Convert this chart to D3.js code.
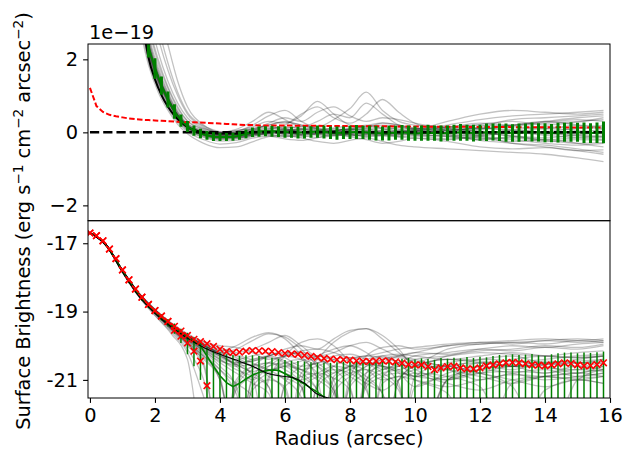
<!DOCTYPE html>
<html>
<head>
<meta charset="utf-8">
<script src="https://cdn.jsdelivr.net/npm/d3@7"></script>
<style>
  html, body { margin: 0; padding: 0; background: #fff; }
  svg text { font-family: "DejaVu Sans", sans-serif; }
</style>
</head>
<body>
<svg id="chart" width="623" height="450"></svg>
<script>
// ---------- radial grid (arcsec) ----------
const radius = [
  0.0,0.2,0.4,0.6,0.8,1.0,1.2,1.4,1.6,1.8,
  2.0,2.2,2.4,2.6,2.8,3.0,3.2,3.4,3.6,3.8,
  4.0,4.2,4.4,4.6,4.8,5.0,5.2,5.4,5.6,5.8,
  6.0,6.2,6.4,6.6,6.8,7.0,7.2,7.4,7.6,7.8,
  8.0,8.2,8.4,8.6,8.8,9.0,9.2,9.4,9.6,9.8,
  10.0,10.2,10.4,10.6,10.8,11.0,11.2,11.4,11.6,11.8,
  12.0,12.2,12.4,12.6,12.8,13.0,13.2,13.4,13.6,13.8,
  14.0,14.2,14.4,14.6,14.8,15.0,15.2,15.4,15.6,15.8
];

// ---------- upper panel (linear, units of 1e-19) ----------
const topMedian = [
  75,60,45,32,22,15,9.5,6.0,3.7,2.35,
  1.75,1.28,0.9,0.57,0.32,0.16,0.05,-0.03,-0.08,-0.12,
  -0.13,-0.13,-0.12,-0.09,-0.04,0.0,0.02,0.03,0.03,0.02,
  0.01,0.0,-0.01,0.0,0.01,0.02,0.01,-0.01,-0.02,-0.01,
  0.0,0.01,0.0,-0.01,-0.02,-0.03,-0.02,-0.01,0.0,-0.02,
  -0.03,-0.02,-0.01,-0.02,-0.03,-0.02,-0.01,0.0,-0.01,-0.02,
  -0.01,0.0,0.01,0.0,-0.01,-0.02,-0.01,0.0,0.01,0.0,
  -0.01,-0.02,-0.01,0.0,0.01,0.0,-0.01,-0.02,-0.01,0.0
];
const topErr = [
  0.6,0.55,0.5,0.45,0.42,0.4,0.37,0.34,0.32,0.3,
  0.28,0.25,0.22,0.2,0.17,0.15,0.14,0.13,0.12,0.12,
  0.11,0.11,0.11,0.11,0.12,0.13,0.14,0.14,0.15,0.15,
  0.16,0.15,0.16,0.17,0.16,0.17,0.18,0.17,0.18,0.17,
  0.18,0.19,0.18,0.19,0.2,0.19,0.2,0.19,0.2,0.21,
  0.2,0.21,0.22,0.21,0.22,0.21,0.22,0.23,0.22,0.23,
  0.22,0.24,0.23,0.24,0.25,0.24,0.25,0.24,0.26,0.25,
  0.26,0.25,0.27,0.26,0.27,0.26,0.28,0.27,0.28,0.3
];
const topBackground = [
  1.22,0.72,0.56,0.48,0.44,0.41,0.38,0.36,0.345,0.335,
  0.325,0.315,0.305,0.295,0.285,0.28,0.275,0.27,0.26,0.25,
  0.24,0.23,0.22,0.21,0.2,0.2,0.19,0.19,0.19,0.19,
  0.185,0.185,0.18,0.18,0.18,0.178,0.176,0.175,0.174,0.172,
  0.17,0.17,0.168,0.167,0.166,0.165,0.164,0.163,0.162,0.16,
  0.158,0.157,0.156,0.155,0.154,0.153,0.152,0.151,0.15,0.149,
  0.148,0.147,0.146,0.145,0.144,0.143,0.142,0.141,0.14,0.14,
  0.139,0.138,0.137,0.136,0.135,0.134,0.133,0.132,0.131,0.13
];
const modelTopR = [1.6,1.8,2.0,2.2,2.4,2.6,2.8,3.0,3.2,3.4,3.6,3.8,4.0,4.5,5.0];
const modelTopV = [3.1,2.05,1.45,1.02,0.7,0.46,0.28,0.15,0.07,0.02,-0.01,-0.03,-0.04,-0.04,-0.02];

// realisations, sampled at these radii
const realTopR = [1.5,1.8,2.1,2.4,2.7,3.0,3.5,4,4.5,5,5.5,6,6.5,7,7.5,8,8.5,9,9.5,10,11,12,13,14,15,15.8];
const realTop = [
  [3.6,2.2,1.4,0.82,0.4,0.12,-0.08,-0.16,-0.12,0.02,0.05,0.0,-0.05,-0.02,0.04,0.08,0.05,-0.02,-0.06,-0.04,0.02,0.1,0.05,-0.05,0.0,0.08],
  [3.9,2.4,1.55,0.95,0.48,0.18,-0.02,-0.1,-0.08,-0.02,0.0,0.04,0.1,0.06,-0.02,-0.08,-0.05,0.02,0.06,0.1,0.12,0.0,-0.1,-0.15,-0.08,-0.12],
  [3.4,2.1,1.3,0.75,0.35,0.08,-0.12,-0.2,-0.18,-0.06,0.02,0.06,0.0,-0.08,-0.1,-0.02,0.06,0.1,0.04,-0.04,-0.1,-0.2,-0.12,-0.22,-0.3,-0.28],
  [4.1,2.55,1.65,1.0,0.52,0.2,0.02,-0.08,-0.1,0.04,0.12,0.08,0.02,0.05,0.1,0.04,-0.04,-0.1,-0.06,0.02,0.15,0.2,0.18,0.25,0.3,0.35],
  [3.7,2.3,1.45,0.88,0.44,0.14,-0.06,-0.14,-0.1,-0.04,-0.08,-0.12,-0.06,0.02,0.0,-0.06,-0.12,-0.08,0.0,0.05,-0.05,-0.15,-0.25,-0.2,-0.3,-0.4],
  [3.8,2.35,1.5,0.9,0.45,0.17,-0.04,-0.12,-0.14,-0.08,0.0,0.1,0.16,0.1,0.02,0.04,0.1,0.14,0.08,0.0,0.1,0.22,0.3,0.2,0.28,0.4],
  [3.5,2.15,1.35,0.8,0.38,0.1,-0.1,-0.18,-0.16,-0.1,-0.04,-0.02,-0.08,-0.14,-0.08,0.0,0.02,-0.04,-0.12,-0.16,-0.2,-0.12,-0.3,-0.35,-0.45,-0.55],
  [4.0,2.5,1.6,0.98,0.5,0.2,0.0,-0.06,-0.04,0.06,0.04,-0.04,-0.02,0.04,0.12,0.16,0.1,0.02,-0.02,0.04,0.0,0.08,0.15,0.1,0.2,0.15],
  [3.6,2.25,1.42,0.86,0.42,0.13,-0.07,-0.15,-0.13,-0.03,0.08,0.14,0.1,0.0,-0.06,-0.1,-0.04,0.06,0.12,0.08,-0.02,-0.08,0.0,0.1,0.05,-0.05],
  [3.9,2.45,1.58,0.94,0.47,0.16,-0.05,-0.11,-0.06,0.0,-0.05,-0.1,-0.12,-0.04,0.06,0.08,0.0,-0.08,-0.12,-0.1,-0.18,-0.1,0.0,-0.08,-0.15,-0.2],
  [3.3,2.05,1.25,0.7,0.32,0.06,-0.14,-0.24,-0.22,-0.12,-0.02,0.04,0.08,0.12,0.06,-0.04,-0.1,-0.06,0.02,0.08,0.14,0.25,0.2,0.3,0.4,0.45],
  [4.2,2.6,1.7,1.05,0.55,0.22,0.04,-0.04,-0.02,0.08,0.16,0.1,0.0,-0.06,-0.02,0.06,0.14,0.2,0.16,0.06,-0.06,-0.22,-0.3,-0.4,-0.5,-0.6],
  [4.5,2.9,1.9,1.2,0.65,0.3,0.08,-0.04,0.02,0.2,0.45,0.6,0.3,0.1,0.05,0.1,0.2,0.1,0.0,0.05,0.2,0.35,0.45,0.5,0.55,0.6],
  [5.0,3.3,2.2,1.4,0.8,0.4,0.12,-0.02,0.04,0.15,0.3,0.25,0.45,0.85,0.5,0.2,0.15,0.25,0.2,0.1,0.3,0.5,0.6,0.55,0.5,0.55],
  [5.5,3.8,2.6,1.7,1.0,0.5,0.15,0.0,0.05,0.1,0.2,0.3,0.2,0.15,0.35,0.65,1.1,0.6,0.3,0.2,0.15,0.1,0.2,0.3,0.2,0.1],
  [6.0,4.2,2.9,1.9,1.1,0.55,0.18,0.02,-0.05,0.05,0.25,0.4,0.3,0.55,0.7,0.45,0.3,0.4,0.35,0.25,0.1,0.0,-0.1,-0.2,-0.15,-0.1],
  [3.0,1.85,1.1,0.6,0.22,-0.04,-0.3,-0.42,-0.4,-0.26,-0.12,-0.08,-0.15,-0.25,-0.3,-0.22,-0.15,-0.25,-0.35,-0.4,-0.45,-0.5,-0.55,-0.6,-0.7,-0.8],
  [3.2,1.95,1.2,0.66,0.28,0.02,-0.2,-0.32,-0.28,-0.16,-0.1,-0.18,-0.22,-0.15,-0.05,-0.12,-0.2,-0.3,-0.25,-0.15,-0.25,-0.4,-0.45,-0.42,-0.5,-0.48],
  [4.6,3.0,2.0,1.25,0.7,0.32,0.1,0.0,0.08,0.3,0.55,0.35,0.15,0.3,0.5,0.4,0.8,0.5,0.2,0.1,0.05,0.15,0.35,0.4,0.45,0.5],
  [7.0,5.0,3.5,2.4,1.4,0.7,0.2,0.0,-0.02,0.05,0.1,0.2,0.5,0.7,0.4,0.25,0.5,0.9,0.55,0.25,0.05,-0.1,-0.2,-0.3,-0.35,-0.3],
  [3.75,2.3,1.48,0.89,0.45,0.15,-0.05,-0.13,-0.11,-0.02,0.03,-0.02,-0.06,0.0,0.05,0.02,-0.04,-0.06,0.0,0.06,0.08,0.04,-0.04,0.02,0.1,0.12],
  [3.85,2.38,1.52,0.92,0.46,0.16,-0.03,-0.1,-0.12,-0.06,-0.02,0.02,0.06,0.02,-0.04,-0.04,0.02,0.04,-0.02,-0.08,-0.1,-0.06,0.04,-0.02,-0.1,-0.15],
  [3.65,2.27,1.44,0.87,0.43,0.14,-0.06,-0.14,-0.12,-0.04,0.06,0.08,0.04,-0.04,-0.08,-0.04,0.02,0.0,-0.04,0.0,0.06,0.12,0.08,0.15,0.12,0.2],
  [3.95,2.42,1.56,0.95,0.48,0.17,-0.04,-0.09,-0.07,0.02,0.0,-0.06,-0.08,-0.02,0.04,0.1,0.06,-0.02,-0.08,-0.06,-0.12,-0.18,-0.15,-0.25,-0.2,-0.22],
  [3.55,2.2,1.38,0.83,0.41,0.12,-0.08,-0.17,-0.15,-0.07,0.01,0.05,0.08,0.06,0.0,-0.06,-0.08,-0.02,0.04,0.02,0.0,-0.04,0.06,0.0,-0.06,0.02],
  [4.3,2.7,1.78,1.1,0.58,0.24,0.05,-0.03,0.0,0.1,0.2,0.28,0.2,0.08,0.02,0.08,0.18,0.26,0.2,0.12,0.05,0.12,0.2,0.28,0.35,0.3]
];

// ---------- lower panel (log10 surface brightness) ----------
const profile = [
  -16.70,-16.78,-16.93,-17.17,-17.45,-17.78,-18.07,-18.34,-18.58,-18.79,
  -18.97,-19.13,-19.29,-19.43,-19.57,-19.70,-19.81,-19.88,-19.94,-20.02,
  -20.10,-20.17,-20.20,-20.19,-20.16,-20.14,-20.15,-20.16,-20.17,-20.20,
  -20.22,-20.24,-20.25,-20.28,-20.31,-20.34,-20.37,-20.39,-20.41,-20.41,
  -20.42,-20.44,-20.46,-20.46,-20.45,-20.44,-20.45,-20.47,-20.51,-20.55,
  -20.56,-20.56,-20.61,-20.70,-20.65,-20.61,-20.60,-20.65,-20.68,-20.68,
  -20.65,-20.59,-20.56,-20.53,-20.50,-20.49,-20.50,-20.53,-20.56,-20.57,
  -20.59,-20.56,-20.53,-20.50,-20.52,-20.56,-20.59,-20.58,-20.55,-20.50
];
// background-subtracted profile: positive only out to 3.6 arcsec
const profileSub = [
  -16.70,-16.78,-16.93,-17.17,-17.45,-17.78,-18.07,-18.34,-18.58,-18.79,
  -18.97,-19.13,-19.29,-19.55,-19.72,-19.92,-20.16,-20.45,-21.17
];
// median of realisations: positive only out to 7.4 arcsec
const logMedian = [
  -16.71,-16.80,-16.95,-17.20,-17.50,-17.82,-18.12,-18.38,-18.62,-18.83,
  -19.00,-19.16,-19.32,-19.47,-19.61,-19.75,-19.88,-20.00,-20.30,-20.60,
  -20.88,-21.08,-21.20,-21.10,-20.97,-20.86,-20.78,-20.74,-20.71,-20.72,
  -20.82,-20.92,-21.02,-21.12,-21.24,-21.36,-21.50,-21.70
];
const logErrHi = [
  -16.69,-16.78,-16.93,-17.17,-17.47,-17.78,-18.07,-18.32,-18.56,-18.76,
  -18.93,-19.08,-19.22,-19.35,-19.50,-19.62,-19.75,-19.88,-20.05,-20.15,
  -20.20,-20.25,-20.28,-20.30,-20.28,-20.28,-20.30,-20.32,-20.35,-20.38,
  -20.42,-20.44,-20.45,-20.46,-20.48,-20.50,-20.50,-20.50,-20.48,-20.47,
  -20.46,-20.47,-20.50,-20.48,-20.45,-20.44,-20.46,-20.43,-20.38,-20.36,
  -20.40,-20.37,-20.39,-20.41,-20.36,-20.38,-20.35,-20.37,-20.33,-20.36,
  -20.32,-20.34,-20.30,-20.27,-20.28,-20.25,-20.27,-20.26,-20.24,-20.28,
  -20.30,-20.25,-20.22,-20.20,-20.20,-20.22,-20.20,-20.21,-20.19,-20.17
];
// lower bound is non-positive (no log) beyond 3.4 arcsec
const logErrLo = [
  -16.73,-16.82,-16.97,-17.23,-17.53,-17.86,-18.17,-18.44,-18.68,-18.90,
  -19.07,-19.26,-19.44,-19.65,-19.92,-20.25,-20.60,-21.00
];
const modelR = [0,0.5,1,1.5,2,2.5,3,3.5,4,4.5,5,5.5,6,6.3,6.6,7,7.4,7.8];
const modelV = [-16.7,-17.08,-17.85,-18.55,-19.05,-19.45,-19.78,-20.05,-20.25,-20.42,-20.6,-20.82,-20.9,-20.95,-21.1,-21.42,-21.55,-21.7];

// realisations in log space; -23 marks a non-positive sample (falls off the axis)
const realBotR = [0,0.5,1,1.5,2,2.5,3,3.5,4,4.5,5,5.5,6,6.5,7,7.5,8,8.5,9,9.5,10,11,12,13,14,15,15.8];
const realBot = [
  [-16.7,-17.05,-17.8,-18.48,-18.98,-19.4,-19.75,-20.0,-20.25,-20.4,-20.3,-20.2,-20.35,-20.6,-20.5,-20.3,-20.25,-20.4,-20.7,-20.5,-20.3,-20.2,-20.1,-20.15,-20.05,-20.1,-20.0],
  [-16.7,-17.05,-17.82,-18.5,-19.02,-19.46,-19.85,-20.2,-20.6,-21.2,-23,-20.9,-20.5,-20.4,-20.6,-21.0,-23,-20.8,-20.4,-20.3,-20.4,-20.6,-20.4,-20.3,-20.5,-20.4,-20.3],
  [-16.7,-17.04,-17.78,-18.45,-18.94,-19.35,-19.68,-19.9,-20.05,-20.2,-20.1,-19.9,-19.7,-20.0,-20.3,-20.2,-20.0,-19.9,-20.1,-20.3,-20.2,-20.0,-19.95,-19.9,-19.95,-19.85,-19.9],
  [-16.7,-17.06,-17.84,-18.52,-19.05,-19.5,-19.95,-20.5,-23,-21.0,-20.6,-20.5,-20.7,-21.1,-23,-20.9,-20.6,-20.5,-20.6,-20.8,-21.2,-20.8,-20.6,-20.7,-20.5,-20.6,-20.5],
  [-16.7,-17.05,-17.8,-18.47,-18.97,-19.38,-19.72,-19.95,-20.15,-20.35,-20.6,-20.9,-21.3,-23,-21.1,-20.6,-20.4,-20.3,-20.35,-20.5,-20.7,-21.0,-20.7,-20.5,-20.4,-20.3,-20.25],
  [-16.7,-17.05,-17.81,-18.49,-19.0,-19.43,-19.8,-20.15,-20.5,-20.8,-21.1,-21.4,-23,-20.8,-20.5,-20.45,-20.6,-20.9,-21.4,-23,-20.9,-20.5,-20.4,-20.45,-20.6,-20.8,-20.6],
  [-16.7,-17.05,-17.79,-18.46,-18.95,-19.36,-19.7,-19.98,-20.25,-20.6,-21.0,-20.6,-20.3,-20.2,-20.35,-20.7,-21.2,-23,-20.9,-20.6,-20.4,-20.3,-20.2,-20.25,-20.3,-20.2,-20.15],
  [-16.7,-17.05,-17.8,-18.5,-19.05,-19.55,-20.1,-21.0,-23,-23,-20.9,-20.5,-20.3,-20.4,-20.8,-21.3,-23,-21.0,-20.7,-20.6,-20.55,-20.7,-21.0,-20.8,-20.7,-20.9,-20.8],
  [-16.7,-17.05,-17.8,-18.47,-18.97,-19.38,-19.72,-19.95,-20.2,-20.1,-19.85,-19.65,-19.75,-20.1,-20.6,-21.2,-23,-21.0,-20.5,-20.3,-20.2,-20.25,-20.1,-20.0,-20.05,-19.95,-19.9],
  [-16.7,-17.05,-17.81,-18.48,-18.99,-19.42,-19.78,-20.08,-20.35,-20.55,-20.8,-21.2,-23,-21.0,-20.4,-19.9,-19.6,-19.5,-19.7,-20.1,-20.6,-20.3,-20.15,-20.1,-20.0,-20.05,-19.95],
  [-16.7,-17.06,-17.84,-18.55,-19.1,-19.6,-20.2,-21.5,-23,-21.2,-20.7,-20.5,-20.6,-20.9,-21.3,-23,-21.2,-20.8,-20.6,-20.7,-21.0,-21.4,-23,-21.1,-20.9,-20.8,-20.9],
  [-16.7,-17.04,-17.78,-18.44,-18.93,-19.33,-19.65,-19.88,-20.0,-20.05,-20.2,-20.4,-20.3,-20.15,-20.1,-20.2,-20.35,-20.3,-20.2,-20.1,-20.05,-19.95,-19.9,-19.85,-19.8,-19.85,-19.8],
  [-16.7,-17.05,-17.8,-18.48,-18.98,-19.4,-19.76,-20.05,-20.3,-20.5,-20.45,-20.35,-20.5,-20.8,-21.3,-23,-21.1,-20.6,-20.4,-20.35,-20.45,-20.6,-20.8,-21.2,-23,-21.0,-20.7],
  [-16.7,-17.05,-17.82,-18.5,-19.0,-19.45,-19.85,-20.25,-20.7,-21.4,-23,-21.0,-20.3,-19.9,-19.8,-20.0,-20.5,-21.2,-23,-21.0,-20.6,-20.4,-20.5,-20.6,-20.45,-20.5,-20.4],
  [-16.7,-17.05,-17.8,-18.47,-18.96,-19.37,-19.73,-20.0,-20.2,-20.3,-20.5,-20.7,-20.6,-20.45,-20.3,-20.4,-20.6,-20.5,-20.3,-20.25,-20.3,-20.4,-20.3,-20.2,-20.3,-20.35,-20.3],
  [-16.7,-17.06,-17.85,-18.56,-19.12,-19.65,-20.4,-23,-23,-21.1,-20.6,-20.3,-20.2,-20.3,-20.5,-20.8,-20.6,-20.4,-20.3,-20.5,-20.9,-20.6,-20.5,-20.6,-20.8,-20.6,-20.7],
  [-16.7,-17.04,-17.79,-18.46,-18.95,-19.36,-19.7,-19.95,-20.1,-20.25,-20.4,-20.3,-20.1,-20.0,-20.1,-19.8,-19.55,-19.5,-19.8,-20.2,-20.5,-20.1,-19.95,-19.9,-19.85,-19.8,-19.85],
  [-16.7,-17.05,-17.8,-18.49,-19.0,-19.44,-19.82,-20.12,-20.4,-20.6,-20.55,-20.7,-21.0,-21.5,-23,-21.2,-20.8,-20.7,-20.9,-21.3,-23,-21.0,-20.7,-20.6,-20.55,-20.5,-20.5],
  [-16.7,-17.05,-17.8,-18.47,-18.97,-19.39,-19.74,-20.0,-20.15,-20.0,-19.75,-19.62,-19.8,-20.3,-21.0,-23,-20.9,-20.3,-20.05,-20.0,-20.1,-20.0,-19.9,-19.95,-19.85,-19.9,-19.85],
  [-16.7,-17.05,-17.81,-18.5,-19.02,-19.47,-19.88,-20.3,-20.9,-23,-21.0,-20.7,-20.8,-21.0,-20.8,-20.6,-20.7,-21.0,-21.4,-23,-21.2,-20.9,-20.7,-20.8,-21.0,-20.9,-20.8],
  [-16.7,-17.05,-17.8,-18.48,-18.99,-19.42,-19.8,-20.1,-20.4,-20.7,-20.9,-21.2,-23,-21.3,-20.9,-20.7,-20.8,-21.1,-21.3,-21.0,-20.8,-20.9,-21.2,-23,-21.3,-21.0,-21.1],
  [-16.7,-17.05,-17.81,-18.5,-19.03,-19.5,-19.95,-20.4,-21.0,-23,-21.2,-20.8,-20.6,-20.7,-20.9,-21.3,-23,-21.1,-20.8,-20.7,-20.6,-20.7,-20.9,-21.1,-20.9,-20.8,-20.7],
  [-16.7,-17.05,-17.8,-18.47,-18.97,-19.39,-19.76,-20.05,-20.3,-20.55,-20.75,-20.6,-20.5,-20.7,-21.0,-21.4,-23,-21.2,-20.9,-20.8,-20.9,-21.0,-20.8,-20.6,-20.65,-20.7,-20.6],
  [-16.7,-17.06,-17.83,-18.52,-19.06,-19.53,-20.0,-20.6,-23,-21.3,-20.9,-20.7,-20.8,-21.2,-23,-21.4,-20.9,-20.6,-20.5,-20.6,-20.8,-21.1,-21.3,-21.0,-20.9,-21.0,-20.9],
  [-16.7,-17.05,-17.8,-18.48,-18.98,-19.4,-19.77,-20.05,-20.3,-20.45,-20.6,-20.8,-20.95,-21.2,-23,-21.0,-20.7,-20.55,-20.6,-20.75,-20.9,-20.7,-20.5,-20.45,-20.5,-20.45,-20.4],
  [-16.7,-17.04,-17.79,-18.46,-18.96,-19.37,-19.72,-19.97,-20.2,-20.45,-20.9,-23,-21.1,-20.6,-20.3,-20.1,-20.0,-20.2,-20.6,-21.1,-23,-21.0,-20.6,-20.4,-20.3,-20.35,-20.3],
  [-16.7,-17.05,-17.82,-18.51,-19.04,-19.5,-19.92,-20.3,-20.7,-21.1,-21.5,-23,-21.2,-20.9,-20.8,-20.95,-21.3,-23,-21.1,-20.9,-21.0,-21.2,-21.0,-20.85,-20.9,-20.95,-20.9],
  [-16.7,-17.05,-17.8,-18.49,-19.0,-19.44,-19.83,-20.15,-20.45,-20.55,-20.4,-20.3,-20.45,-20.7,-20.6,-20.4,-20.35,-20.5,-20.8,-21.2,-23,-21.0,-20.8,-20.75,-20.8,-20.7,-20.75],
  [-16.7,-17.05,-17.81,-18.5,-19.02,-19.48,-19.9,-20.35,-21.0,-23,-21.3,-21.0,-21.2,-23,-21.2,-20.8,-20.6,-20.7,-21.0,-20.9,-20.7,-20.6,-20.8,-21.0,-21.2,-21.0,-21.1],
  [-16.7,-17.05,-17.8,-18.47,-18.97,-19.38,-19.74,-20.0,-20.25,-20.5,-20.45,-20.3,-20.2,-20.25,-20.4,-20.6,-20.9,-21.3,-23,-21.0,-20.6,-20.4,-20.45,-20.6,-20.55,-20.5,-20.45]
];

// ---------- ticks ----------
const xTicks = [0,2,4,6,8,10,12,14,16];
const topTicks = [-2,0,2];
const botTicks = [-17,-19,-21];

// ---------- layout ----------
const svg = d3.select("#chart");
const FONT = "DejaVu Sans, sans-serif";
const FS = 19.4;
const L = 88, R = 610, T = 44, M = 220.7, B = 398;

const x = d3.scaleLinear().domain([-0.06, 16]).range([L, R]);
const yTop = d3.scaleLinear().domain([-2.42, 2.42]).range([M, T]);
const yBot = d3.scaleLinear().domain([-21.53, -16.34]).range([B, M]);

const defs = svg.append("defs");
defs.append("clipPath").attr("id", "clipTop").append("rect")
  .attr("x", L).attr("y", T).attr("width", R - L).attr("height", M - T);
defs.append("clipPath").attr("id", "clipBot").append("rect")
  .attr("x", L).attr("y", M).attr("width", R - L).attr("height", B - M);

const lineTop = d3.line().x(d => x(d[0])).y(d => yTop(d[1])).curve(d3.curveMonotoneX);
const lineBot = d3.line().x(d => x(d[0])).y(d => yBot(d[1])).curve(d3.curveMonotoneX);
const lineBotStraight = d3.line().x(d => x(d[0])).y(d => yBot(d[1]));
const lineTopStraight = d3.line().x(d => x(d[0])).y(d => yTop(d[1]));

const GREY_OPACITY = 0.24;

// ================= upper panel =================
const gTop = svg.append("g").attr("clip-path", "url(#clipTop)");

gTop.selectAll("path.real").data(realTop).join("path")
  .attr("class", "real")
  .attr("d", vals => lineTop(vals.map((v, i) => [realTopR[i], v])))
  .attr("fill", "none").attr("stroke", "#000")
  .attr("stroke-opacity", GREY_OPACITY).attr("stroke-width", 1.3);

gTop.append("path")
  .attr("d", lineTop(modelTopR.map((r, i) => [r, modelTopV[i]])))
  .attr("fill", "none").attr("stroke", "#000").attr("stroke-width", 2);

gTop.append("path")
  .attr("d", lineTopStraight(radius.map((r, i) => [r, topMedian[i]])))
  .attr("fill", "none").attr("stroke", "#008000").attr("stroke-width", 2);

gTop.append("line")
  .attr("x1", x(radius[0])).attr("x2", x(radius[radius.length - 1]))
  .attr("y1", yTop(0)).attr("y2", yTop(0))
  .attr("stroke", "#000").attr("stroke-width", 2.5)
  .attr("stroke-dasharray", "9.25,4");

gTop.append("path")
  .attr("d", lineTopStraight(radius.map((r, i) => [r, topBackground[i]])))
  .attr("fill", "none").attr("stroke", "#ff0000").attr("stroke-width", 2)
  .attr("stroke-dasharray", "5.5,2.4");

gTop.selectAll("line.err").data(radius).join("line")
  .attr("class", "err")
  .attr("x1", r => x(r)).attr("x2", r => x(r))
  .attr("y1", (r, i) => yTop(topMedian[i] - topErr[i]))
  .attr("y2", (r, i) => yTop(topMedian[i] + topErr[i]))
  .attr("stroke", "#008000").attr("stroke-width", 3);

// ================= lower panel =================
const gBot = svg.append("g").attr("clip-path", "url(#clipBot)");

gBot.selectAll("path.real").data(realBot).join("path")
  .attr("class", "real")
  .attr("d", vals => lineBot(vals.map((v, i) => [realBotR[i], v])))
  .attr("fill", "none").attr("stroke", "#000")
  .attr("stroke-opacity", GREY_OPACITY).attr("stroke-width", 1.3);

gBot.selectAll("line.err").data(radius).join("line")
  .attr("class", "err")
  .attr("x1", r => x(r)).attr("x2", r => x(r))
  .attr("y1", (r, i) => i < logErrLo.length ? yBot(logErrLo[i]) : B + 2)
  .attr("y2", (r, i) => yBot(logErrHi[i]))
  .attr("stroke", "#008000").attr("stroke-width", 1.5);

gBot.append("path")
  .attr("d", lineBotStraight(logMedian.map((v, i) => [radius[i], v])))
  .attr("fill", "none").attr("stroke", "#008000").attr("stroke-width", 1.5);

gBot.append("path")
  .attr("d", lineBot(modelR.map((r, i) => [r, modelV[i]])))
  .attr("fill", "none").attr("stroke", "#000").attr("stroke-width", 1.1);

const cross = "M-3.3,-3.3L3.3,3.3M3.3,-3.3L-3.3,3.3";
const crossPts = radius.map((r, i) => [r, profile[i]])
  .concat(profileSub.map((v, i) => [radius[i], v]));
gBot.selectAll("path.cross").data(crossPts).join("path")
  .attr("class", "cross")
  .attr("d", cross)
  .attr("transform", d => `translate(${x(d[0])},${yBot(d[1])})`)
  .attr("fill", "none").attr("stroke", "#ff0000").attr("stroke-width", 1.6);

// ================= frames & axes =================
[[T, M], [M, B]].forEach(([a, b]) => {
  svg.append("rect").attr("x", L).attr("y", a).attr("width", R - L).attr("height", b - a)
    .attr("fill", "none").attr("stroke", "#000").attr("stroke-width", 1);
});

function styleAxis(g) {
  g.select(".domain").remove();
  g.selectAll(".tick line").attr("stroke", "#000").attr("stroke-width", 1.1);
  g.selectAll(".tick text").attr("fill", "#000")
    .attr("font-family", FONT).attr("font-size", FS);
}

svg.append("g").attr("transform", `translate(${L},0)`)
  .call(d3.axisLeft(yTop).tickValues(topTicks).tickFormat(d3.format("d"))
    .tickSize(4.9).tickPadding(4.9))
  .call(styleAxis);

svg.append("g").attr("transform", `translate(${L},0)`)
  .call(d3.axisLeft(yBot).tickValues(botTicks).tickFormat(d => String(d))
    .tickSize(4.9).tickPadding(4.9))
  .call(styleAxis);

svg.append("g").attr("transform", `translate(0,${B})`)
  .call(d3.axisBottom(x).tickValues(xTicks).tickFormat(d3.format("d"))
    .tickSize(4.9).tickPadding(4.9))
  .call(styleAxis);

// offset multiplier for the upper panel
svg.append("text").attr("x", 89).attr("y", 38.5)
  .attr("font-family", FONT).attr("font-size", FS).text("1e\u221219");

// axis titles
svg.append("text").attr("x", 349).attr("y", 444.5).attr("text-anchor", "middle")
  .attr("font-family", FONT).attr("font-size", FS).text("Radius (arcsec)");

const yl = svg.append("text")
  .attr("transform", "translate(30,221) rotate(-90)")
  .attr("text-anchor", "middle")
  .attr("font-family", FONT).attr("font-size", FS);
const parts = [
  ["Surface Brightness (erg s", false], ["\u22121", true],
  [" cm", false], ["\u22122", true],
  [" arcsec", false], ["\u22122", true], [")", false]
];
let raised = false;
parts.forEach(([t, sup]) => {
  const ts = yl.append("tspan").text(t);
  if (sup && !raised) { ts.attr("dy", -7.5).attr("font-size", 13.6); raised = true; }
  else if (sup) { ts.attr("font-size", 13.6); }
  else if (raised) { ts.attr("dy", 7.5); raised = false; }
});
</script>
</body>
</html>
